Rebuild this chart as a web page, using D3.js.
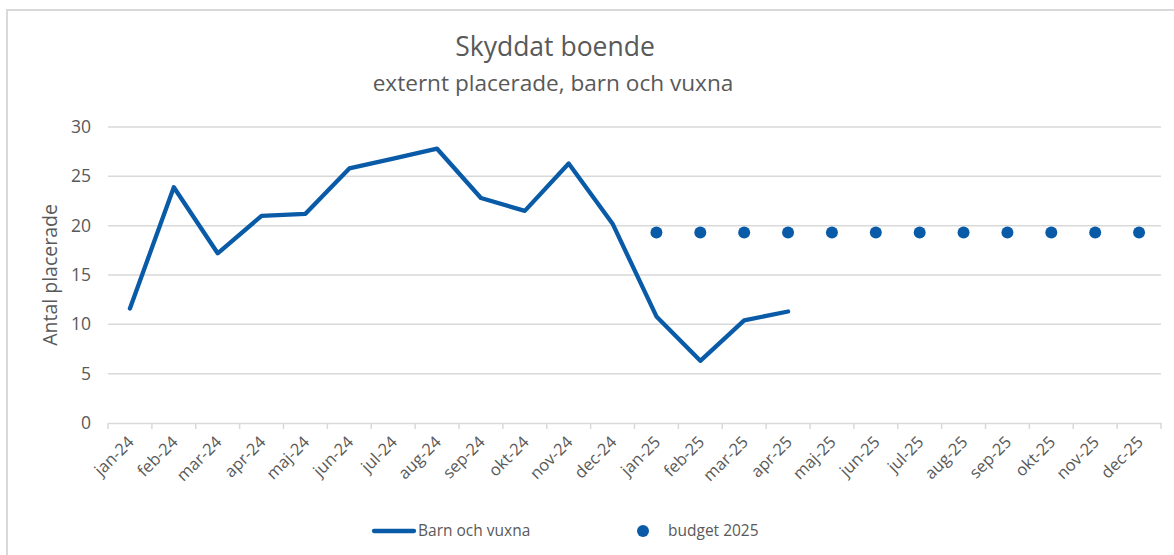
<!DOCTYPE html>
<html>
<head>
<meta charset="utf-8">
<script src="https://cdn.jsdelivr.net/npm/d3@7"></script>
<style>
  body { margin: 0; background: #fff; }
  text { font-family: "Open Sans", "Noto Sans", sans-serif; fill: #595959; }
</style>
</head>
<body>
<svg width="1174" height="555"></svg>
<script>
var months = ["jan-24","feb-24","mar-24","apr-24","maj-24","jun-24","jul-24","aug-24","sep-24","okt-24","nov-24","dec-24",
              "jan-25","feb-25","mar-25","apr-25","maj-25","jun-25","jul-25","aug-25","sep-25","okt-25","nov-25","dec-25"];
// Barn och vuxna (actual)
var actual = [11.6, 23.9, 17.2, 21.0, 21.2, 25.8, 26.8, 27.8, 22.8, 21.5, 26.3, 20.2,
              10.8, 6.3, 10.4, 11.3];
// budget 2025, starts jan-25
var budget = [19.3, 19.3, 19.3, 19.3, 19.3, 19.3, 19.3, 19.3, 19.3, 19.3, 19.3, 19.3];
var yTicks = [0, 5, 10, 15, 20, 25, 30];

var blue = "#095ba8", grid = "#d9d9d9";
var svg = d3.select("svg");

// chart frame (top + left edges visible)
svg.append("path")
    .attr("d", "M7,555 L7,10 L1174,10")
    .attr("fill", "none")
    .attr("stroke", grid)
    .attr("stroke-width", 2);

var plotLeft = 108, plotRight = 1161, plotTop = 127, plotBottom = 423;

var x = d3.scaleBand().domain(months).range([plotLeft, plotRight]);
var y = d3.scaleLinear().domain([0, 30]).range([plotBottom, plotTop]);

// gridlines
svg.append("g")
  .selectAll("line")
  .data(yTicks.filter(function(d) { return d > 0; }))
  .enter().append("line")
    .attr("x1", plotLeft).attr("x2", plotRight)
    .attr("y1", function(d) { return y(d); })
    .attr("y2", function(d) { return y(d); })
    .attr("stroke", grid)
    .attr("stroke-width", 1.5);

// y labels
svg.append("g")
  .selectAll("text")
  .data(yTicks)
  .enter().append("text")
    .attr("x", 91)
    .attr("y", function(d) { return y(d); })
    .attr("dy", "0.35em")
    .attr("text-anchor", "end")
    .style("font-size", "17.5px")
    .text(function(d) { return d; });

// x axis
var xAxis = svg.append("g")
    .attr("transform", "translate(0," + plotBottom + ")")
    .call(d3.axisBottom(x).tickSize(0).tickFormat(""));
xAxis.select(".domain").attr("stroke", grid).attr("stroke-width", 1.5);

svg.append("g")
  .selectAll("line")
  .data(months.concat(["end"]))
  .enter().append("line")
    .attr("x1", function(d, i) { return plotLeft + i * x.step(); })
    .attr("x2", function(d, i) { return plotLeft + i * x.step(); })
    .attr("y1", plotBottom).attr("y2", plotBottom + 6)
    .attr("stroke", grid)
    .attr("stroke-width", 1.5);

svg.append("g")
  .selectAll("text")
  .data(months)
  .enter().append("text")
    .attr("transform", function(d) {
      return "translate(" + (x(d) + x.bandwidth() / 2 + 1) + "," + (plotBottom + 16) + ") rotate(-45)";
    })
    .attr("text-anchor", "end")
    .attr("dy", "0.35em")
    .style("font-size", "16.5px")
    .text(function(d) { return d; });

// y title
svg.append("text")
    .attr("transform", "translate(50,275) rotate(-90)")
    .attr("text-anchor", "middle")
    .attr("dy", "0.35em")
    .style("font-size", "19.5px")
    .text("Antal placerade");

// title
svg.append("text")
    .attr("x", 555).attr("y", 56)
    .attr("text-anchor", "middle")
    .style("font-size", "26.5px")
    .text("Skyddat boende");
svg.append("text")
    .attr("x", 553).attr("y", 91)
    .attr("text-anchor", "middle")
    .style("font-size", "22.6px")
    .text("externt placerade, barn och vuxna");

// actual line
var line = d3.line()
    .x(function(d, i) { return x(months[i]) + x.bandwidth() / 2; })
    .y(function(d) { return y(d); });
svg.append("path")
    .datum(actual)
    .attr("d", line)
    .attr("fill", "none")
    .attr("stroke", blue)
    .attr("stroke-width", 4.3)
    .attr("stroke-linejoin", "round")
    .attr("stroke-linecap", "round");

// budget dots
svg.append("g")
  .selectAll("circle")
  .data(budget)
  .enter().append("circle")
    .attr("cx", function(d, i) { return x(months[12 + i]) + x.bandwidth() / 2; })
    .attr("cy", function(d) { return y(d); })
    .attr("r", 6)
    .attr("fill", blue);

// legend
var lg = svg.append("g");
lg.append("line")
    .attr("x1", 374).attr("x2", 414)
    .attr("y1", 531).attr("y2", 531)
    .attr("stroke", blue).attr("stroke-width", 4.3)
    .attr("stroke-linecap", "round");
lg.append("text")
    .attr("x", 418).attr("y", 531).attr("dy", "0.35em")
    .style("font-size", "15.5px")
    .text("Barn och vuxna");
lg.append("circle")
    .attr("cx", 643).attr("cy", 531).attr("r", 6)
    .attr("fill", blue);
lg.append("text")
    .attr("x", 668).attr("y", 531).attr("dy", "0.35em")
    .style("font-size", "15.5px")
    .text("budget 2025");
</script>
</body>
</html>
